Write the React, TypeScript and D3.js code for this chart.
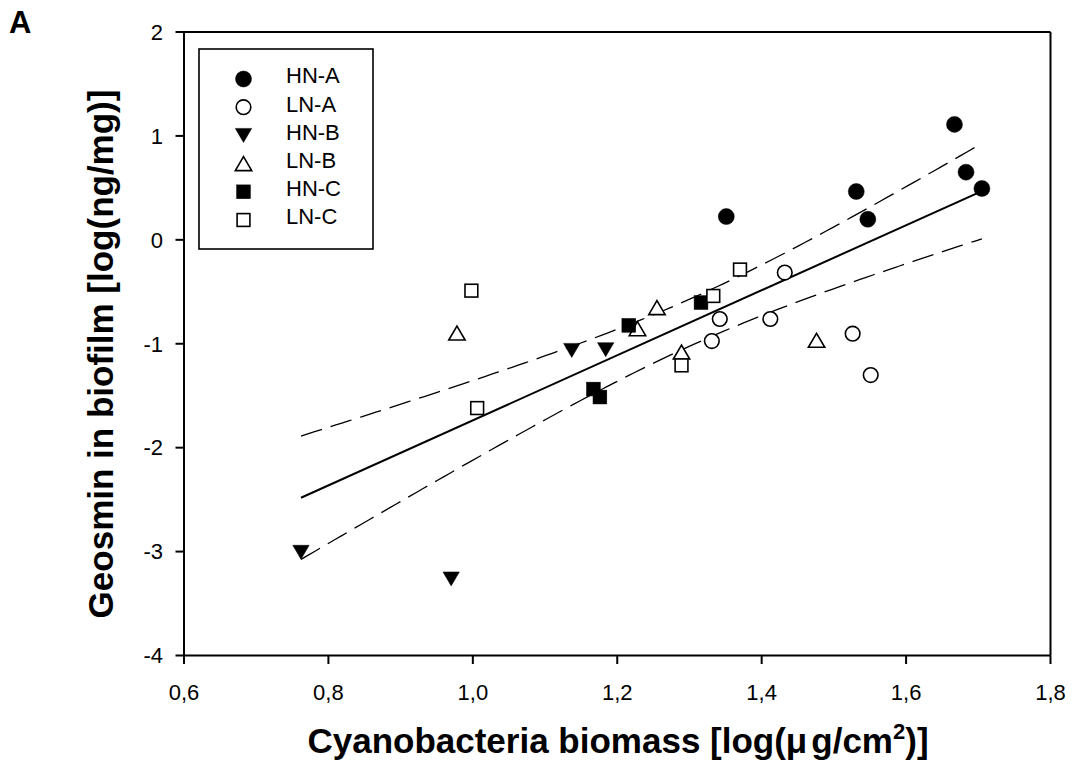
import React from "react";
import * as d3 from "d3";

// Cyanobacteria biomass (log µg/cm²) vs geosmin in biofilm (log ng/mg), per group
const hnA: [number, number][] = [
  [1.351, 0.224], [1.531, 0.465], [1.547, 0.198], [1.667, 1.111], [1.683, 0.651], [1.705, 0.494],
];
const lnA: [number, number][] = [
  [1.432, -0.315], [1.342, -0.762], [1.412, -0.762], [1.331, -0.974], [1.526, -0.903], [1.551, -1.301],
];
const hnB: [number, number][] = [
  [0.762, -3.007], [0.970, -3.263], [1.137, -1.064], [1.184, -1.057],
];
const lnB: [number, number][] = [
  [0.978, -0.897], [1.255, -0.652], [1.228, -0.855], [1.289, -1.080], [1.476, -0.967],
];
const hnC: [number, number][] = [
  [1.216, -0.823], [1.316, -0.604], [1.167, -1.436], [1.176, -1.513],
];
const lnC: [number, number][] = [
  [0.998, -0.489], [1.006, -1.619], [1.370, -0.286], [1.333, -0.540], [1.289, -1.208],
];

const seriesNames = ["HN-A", "LN-A", "HN-B", "LN-B", "HN-C", "LN-C"];
const xTicks = [0.6, 0.8, 1.0, 1.2, 1.4, 1.6, 1.8];
const yTicks = [-4, -3, -2, -1, 0, 1, 2];

type Shape = "circle" | "triDown" | "triUp" | "square";
const series: { name: string; data: [number, number][]; shape: Shape; filled: boolean }[] = [
  { name: seriesNames[0], data: hnA, shape: "circle", filled: true },
  { name: seriesNames[1], data: lnA, shape: "circle", filled: false },
  { name: seriesNames[2], data: hnB, shape: "triDown", filled: true },
  { name: seriesNames[3], data: lnB, shape: "triUp", filled: false },
  { name: seriesNames[4], data: hnC, shape: "square", filled: true },
  { name: seriesNames[5], data: lnC, shape: "square", filled: false },
];

const FONT = "'Liberation Sans', Arial, Helvetica, sans-serif";

function Marker({ cx, cy, shape, filled }: { cx: number; cy: number; shape: Shape; filled: boolean }) {
  const fill = filled ? "#000" : "#fff";
  const sw = filled ? 0.5 : 1.6;
  if (shape === "circle") {
    const r = filled ? 8 : 7.3;
    return <circle cx={cx} cy={cy} r={r} fill={fill} stroke="#000" strokeWidth={sw} />;
  }
  if (shape === "square") {
    const h = filled ? 6.9 : 6.4;
    return <rect x={cx - h} y={cy - h} width={2 * h} height={2 * h} fill={fill} stroke="#000" strokeWidth={sw} />;
  }
  const w = 8.2, hh = 7;
  const pts =
    shape === "triDown"
      ? [[cx - w, cy - hh], [cx + w, cy - hh], [cx, cy + hh]]
      : [[cx - w, cy + hh], [cx + w, cy + hh], [cx, cy - hh]];
  return <polygon points={pts.map((p) => p.join(",")).join(" ")} fill={fill} stroke="#000" strokeWidth={sw} strokeLinejoin="miter" />;
}

export default function App() {
  const x = d3.scaleLinear().domain([0.6, 1.8]).range([184, 1050.5]);
  const y = d3.scaleLinear().domain([-4, 2]).range([655.5, 32]);

  // Linear regression with 95% confidence band on the mean response
  const all = series.flatMap((s) => s.data);
  const n = all.length;
  const mx = d3.mean(all, (d) => d[0])!;
  const my = d3.mean(all, (d) => d[1])!;
  const sxx = d3.sum(all, (d) => (d[0] - mx) ** 2);
  const sxy = d3.sum(all, (d) => (d[0] - mx) * (d[1] - my));
  const slope = sxy / sxx;
  const icpt = my - slope * mx;
  const sse = d3.sum(all, (d) => (d[1] - (icpt + slope * d[0])) ** 2);
  const s = Math.sqrt(sse / (n - 2));
  const tCrit = 2.048;
  const [xmin, xmax] = d3.extent(all, (d) => d[0]) as [number, number];
  const xs = d3.range(0, 101).map((i) => xmin + ((xmax - xmin) * i) / 100);
  const fit = (v: number) => icpt + slope * v;
  const half = (v: number) => tCrit * s * Math.sqrt(1 / n + (v - mx) ** 2 / sxx);
  const line = d3.line<number[]>().x((d) => x(d[0])).y((d) => y(d[1]));
  const fitPath = line([[xmin, fit(xmin)], [xmax, fit(xmax)]])!;
  const upPath = line(xs.map((v) => [v, fit(v) + half(v)]))!;
  const loPath = line(xs.map((v) => [v, fit(v) - half(v)]))!;

  const fmt = (v: number) => d3.format(".1f")(v).replace(".", ",");

  const legX = 199, legY = 49, legW = 174, legH = 200;
  const rowY = (i: number) => 79 + i * 28.2;

  return (
    <svg width={1076} height={769} style={{ position: "absolute", left: 0, top: 0, background: "#fff" }} fontFamily={FONT}>
      <rect x={0} y={0} width={1076} height={769} fill="#fff" />
      <text x={9} y={33} fontSize={31} fontWeight="bold">A</text>

      {/* fitted line and confidence band */}
      <path d={upPath} fill="none" stroke="#000" strokeWidth={1.3} strokeDasharray="22,9" />
      <path d={loPath} fill="none" stroke="#000" strokeWidth={1.3} strokeDasharray="22,9" />
      <path d={fitPath} fill="none" stroke="#000" strokeWidth={2} />

      {/* frame */}
      <line x1={x(0.6)} x2={x(1.8)} y1={y(2)} y2={y(2)} stroke="#000" strokeWidth={2} />
      <line x1={x(1.8)} x2={x(1.8)} y1={y(2)} y2={y(-4)} stroke="#000" strokeWidth={2} />
      <line x1={x(0.6)} x2={x(0.6)} y1={y(2)} y2={y(-4)} stroke="#000" strokeWidth={2} />
      <line x1={x(0.6)} x2={x(1.8)} y1={y(-4)} y2={y(-4)} stroke="#000" strokeWidth={2} />

      {/* y axis ticks */}
      {yTicks.map((t) => (
        <g key={"y" + t}>
          <line x1={x(0.6) - 8.5} x2={x(0.6)} y1={y(t)} y2={y(t)} stroke="#000" strokeWidth={2} />
          <text x={163} y={y(t) + 7.8} fontSize={22} textAnchor="end">{t}</text>
        </g>
      ))}
      {/* x axis ticks */}
      {xTicks.map((t) => (
        <g key={"x" + t}>
          <line x1={x(t)} x2={x(t)} y1={y(-4)} y2={y(-4) + 8.5} stroke="#000" strokeWidth={2} />
          <text x={x(t)} y={700} fontSize={22} textAnchor="middle">{fmt(t)}</text>
        </g>
      ))}

      {/* data */}
      {series.map((sr) =>
        sr.data.map((d, i) => (
          <Marker key={sr.name + i} cx={x(d[0])} cy={y(d[1])} shape={sr.shape} filled={sr.filled} />
        ))
      )}

      {/* legend */}
      <rect x={legX} y={legY} width={legW} height={legH} fill="#fff" stroke="#000" strokeWidth={1.6} />
      {series.map((sr, i) => (
        <g key={"leg" + sr.name}>
          <Marker cx={243.5} cy={rowY(i)} shape={sr.shape} filled={sr.filled} />
          <text x={286} y={rowY(i) + 4.3} fontSize={22}>{sr.name}</text>
        </g>
      ))}

      {/* axis titles */}
      <text x={618} y={753} fontSize={35} fontWeight="bold" textAnchor="middle">
        Cyanobacteria biomass [log(μ<tspan dx={4}>g/cm</tspan>
        <tspan fontSize={22} dy={-14}>2</tspan>
        <tspan dy={14}>)]</tspan>
      </text>
      <text
        transform={`translate(113,354) rotate(-90)`}
        fontSize={35}
        fontWeight="bold"
        textAnchor="middle"
      >
        Geosmin in biofilm [log(ng/mg)]
      </text>
    </svg>
  );
}
